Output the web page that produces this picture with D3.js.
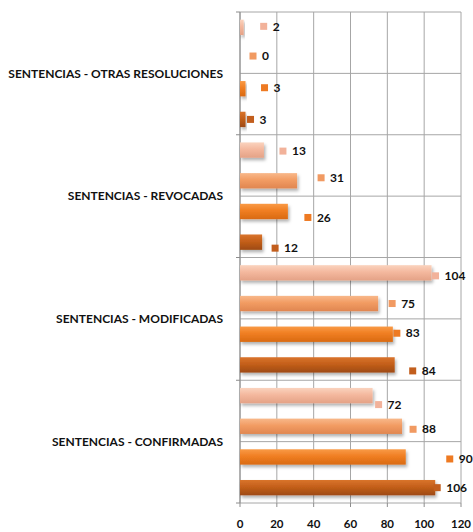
<!DOCTYPE html>
<html>
<head>
<meta charset="utf-8">
<script src="https://cdn.jsdelivr.net/npm/d3@7"></script>
<style>
  html, body { margin: 0; padding: 0; background: #fff; }
  svg { display: block; font-family: Lato, "Liberation Sans", sans-serif; }
</style>
</head>
<body>
<svg id="chart" width="473" height="532"></svg>
<script>
// Categories, listed top to bottom as drawn
const categories = [
  "SENTENCIAS - OTRAS RESOLUCIONES",
  "SENTENCIAS - REVOCADAS",
  "SENTENCIAS - MODIFICADAS",
  "SENTENCIAS - CONFIRMADAS"
];
// Series values per category (same order as categories)
const serie1 = [3, 12, 84, 106];
const serie2 = [3, 26, 83, 90];
const serie3 = [0, 31, 75, 88];
const serie4 = [2, 13, 104, 72];
const xTicks = [0, 20, 40, 60, 80, 100, 120];

// Label placement nudges [dx from bar end, dy from bar centre], per series per category
const labelNudge = {
  s1: [[5, 0], [13, 6], [18, 6], [2, 0]],
  s2: [[19, -1], [20, 6], [4, -1], [44, 2]],
  s3: [[13, -2], [24, -3], [14, 0], [11, 3]],
  s4: [[20, -1], [19, 1], [4, 3], [6, 9]]
};

const seriesKeys = ["s4", "s3", "s2", "s1"]; // top to bottom inside each group
const seriesVals = { s1: serie1, s2: serie2, s3: serie3, s4: serie4 };
const colors = {
  s1: { top: "#D9742C", mid: "#C45F1A", bot: "#9E4A12", key: "#C25E1D" },
  s2: { top: "#F99A45", mid: "#F07E22", bot: "#D96A12", key: "#EE7A22" },
  s3: { top: "#F8B88A", mid: "#F29C63", bot: "#E08650", key: "#F19A62" },
  s4: { top: "#FAD3BE", mid: "#F4B89E", bot: "#E4A286", key: "#F2B29A" }
};

const svg = d3.select("#chart");
const plotLeft = 240, plotRight = 461, plotTop = 12, plotBottom = 503;

const x = d3.scaleLinear().domain([0, 120]).range([plotLeft, plotRight]);
const y = d3.scaleBand().domain(categories).range([plotTop, plotBottom]);
const ys = d3.scaleBand().domain(seriesKeys).range([0, y.bandwidth()]).paddingInner(0.5).paddingOuter(0.25);

// Gradients and drop shadow
const defs = svg.append("defs");
seriesKeys.forEach(k => {
  const g = defs.append("linearGradient").attr("id", "grad-" + k)
    .attr("x1", 0).attr("y1", 0).attr("x2", 0).attr("y2", 1);
  g.append("stop").attr("offset", "0%").attr("stop-color", colors[k].top);
  g.append("stop").attr("offset", "45%").attr("stop-color", colors[k].mid);
  g.append("stop").attr("offset", "100%").attr("stop-color", colors[k].bot);
});
const f = defs.append("filter").attr("id", "shadow")
  .attr("x", "-10%").attr("y", "-30%").attr("width", "130%").attr("height", "190%");
f.append("feDropShadow").attr("dx", 1.5).attr("dy", 2.5).attr("stdDeviation", 1.5)
  .attr("flood-color", "#000").attr("flood-opacity", 0.3);

// Grid: vertical lines at value ticks
const grid = svg.append("g");
grid.selectAll("line.v").data(xTicks).join("line")
  .attr("x1", d => x(d)).attr("x2", d => x(d))
  .attr("y1", plotTop).attr("y2", plotBottom)
  .attr("stroke", "#A6A6A6").attr("stroke-width", 1);

// Horizontal lines at category boundaries and midpoints
const hLines = [];
categories.forEach(c => { hLines.push(y(c)); hLines.push(y(c) + y.bandwidth() / 2); });
hLines.push(plotBottom);
grid.selectAll("line.h").data(hLines).join("line")
  .attr("x1", plotLeft).attr("x2", plotRight)
  .attr("y1", d => d).attr("y2", d => d)
  .attr("stroke", "#A6A6A6").attr("stroke-width", 1);

// Category tick marks on the left axis
const catTicks = categories.map(c => y(c)).concat([plotBottom]);
grid.selectAll("line.ct").data(catTicks).join("line")
  .attr("x1", plotLeft - 4).attr("x2", plotLeft)
  .attr("y1", d => d).attr("y2", d => d)
  .attr("stroke", "#8C8C8C");
// Value tick marks below the plot
grid.selectAll("line.vt").data(xTicks).join("line")
  .attr("x1", d => x(d)).attr("x2", d => x(d))
  .attr("y1", plotBottom).attr("y2", plotBottom + 4)
  .attr("stroke", "#8C8C8C");
// Axis line
grid.append("line").attr("x1", plotLeft).attr("x2", plotLeft).attr("y1", plotTop).attr("y2", plotBottom)
  .attr("stroke", "#8C8C8C");

// Bars
const groups = svg.append("g").selectAll("g").data(categories).join("g")
  .attr("transform", c => `translate(0,${y(c)})`);

groups.each(function (c, ci) {
  const g = d3.select(this);
  seriesKeys.forEach(k => {
    const v = seriesVals[k][ci];
    if (v > 0) {
      g.append("rect")
        .attr("x", x(0)).attr("y", ys(k))
        .attr("width", x(v) - x(0)).attr("height", ys.bandwidth())
        .attr("fill", `url(#grad-${k})`)
        .attr("filter", "url(#shadow)");
    }
  });
});

// Value labels with series key squares
groups.each(function (c, ci) {
  const g = d3.select(this);
  seriesKeys.forEach(k => {
    const v = seriesVals[k][ci];
    const [dx, dy] = labelNudge[k][ci];
    const cx = x(v) + dx;
    const cy = ys(k) + ys.bandwidth() / 2 + dy;
    g.append("rect").attr("x", cx - 3.5).attr("y", cy - 3.5)
      .attr("width", 7).attr("height", 7).attr("fill", colors[k].key);
    g.append("text").attr("x", cx + 9).attr("y", cy)
      .attr("dy", "0.35em")
      .attr("font-size", 12).attr("font-weight", "bold").attr("fill", "#111")
      .text(v);
  });
});

// Category labels
svg.append("g").selectAll("text").data(categories).join("text")
  .attr("x", 223).attr("y", c => y(c) + y.bandwidth() / 2)
  .attr("dy", "0.35em").attr("text-anchor", "end")
  .attr("font-size", 12).attr("font-weight", "bold").attr("fill", "#111")
  .text(c => c);

// Value axis labels
svg.append("g").selectAll("text").data(xTicks).join("text")
  .attr("x", d => x(d)).attr("y", 524)
  .attr("dy", "0.35em").attr("text-anchor", "middle")
  .attr("font-size", 11.5).attr("font-weight", "bold").attr("fill", "#111")
  .text(d => d);
</script>
</body>
</html>
